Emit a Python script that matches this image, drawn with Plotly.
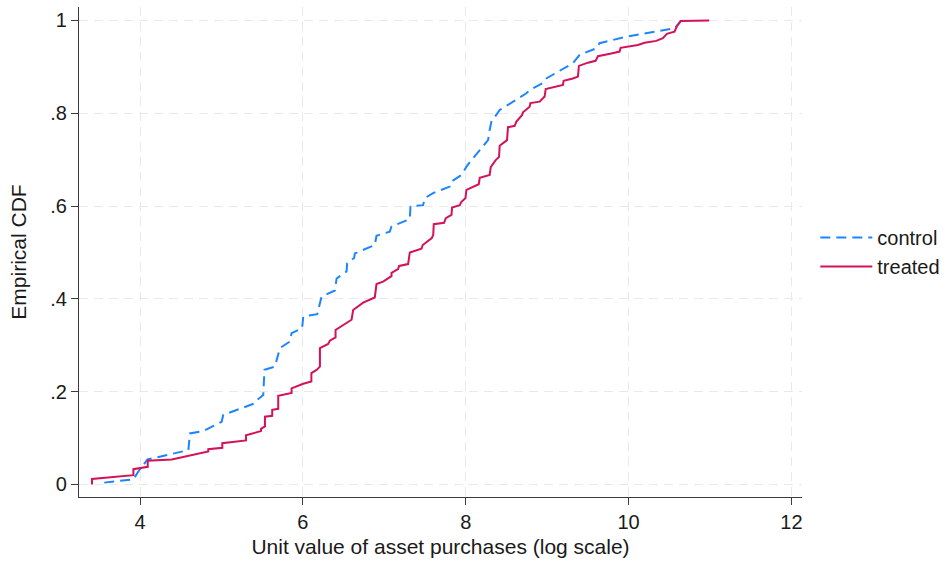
import plotly.graph_objects as go

# Empirical CDF of log unit values, by group (sorted points joined by lines)
control_x = [3.56, 3.918, 3.979, 4.092, 4.593, 4.613, 4.777, 5.002, 5.022, 5.411,
             5.451, 5.513, 5.528, 5.656, 5.718, 5.840, 5.861, 5.991, 6.004, 6.176,
             6.229, 6.393, 6.414, 6.536, 6.544, 6.629, 6.638, 6.883, 6.904, 7.067,
             7.088, 7.292, 7.313, 7.321, 7.476, 7.497, 7.599, 7.804, 7.825, 7.947,
             8.009, 8.070, 8.172, 8.274, 8.294, 8.315, 8.417, 8.745, 8.785, 8.948,
             8.990, 9.316, 9.399, 9.604, 9.644, 9.972, 10.564, 10.626, 10.647]
control_y = [0.004, 0.011, 0.028, 0.054, 0.074, 0.110, 0.115, 0.135, 0.150, 0.175,
             0.184, 0.193, 0.247, 0.254, 0.294, 0.308, 0.326, 0.337, 0.362, 0.367,
             0.405, 0.418, 0.444, 0.459, 0.477, 0.488, 0.498, 0.516, 0.536, 0.545,
             0.556, 0.570, 0.572, 0.599, 0.602, 0.617, 0.628, 0.642, 0.653, 0.667,
             0.685, 0.699, 0.721, 0.742, 0.764, 0.782, 0.807, 0.843, 0.850, 0.865,
             0.875, 0.908, 0.926, 0.940, 0.951, 0.965, 0.983, 0.994, 1.000]

treated_x = [3.41, 3.41, 3.918, 3.918, 4.094, 4.094, 4.389, 4.613, 4.838, 4.838,
             5.010, 5.010, 5.301, 5.301, 5.485, 5.485, 5.534, 5.534, 5.623, 5.623,
             5.697, 5.697, 5.861, 5.861, 6.004, 6.104, 6.104, 6.168, 6.209, 6.209,
             6.310, 6.331, 6.401, 6.401, 6.475, 6.598, 6.617, 6.666, 6.740, 6.883,
             6.904, 6.985, 7.088, 7.088, 7.169, 7.182, 7.292, 7.313, 7.456, 7.472,
             7.583, 7.601, 7.607, 7.734, 7.755, 7.825, 7.832, 7.926, 7.947, 7.996,
             8.009, 8.160, 8.172, 8.294, 8.307, 8.368, 8.409, 8.417, 8.507, 8.519,
             8.601, 8.622, 8.691, 8.703, 8.785, 8.794, 8.908, 8.969, 8.982, 9.194,
             9.202, 9.316, 9.378, 9.390, 9.501, 9.595, 9.623, 9.787, 9.890, 9.902,
             10.114, 10.196, 10.340, 10.421, 10.470, 10.564, 10.592, 10.626, 10.64, 10.99]
treated_y = [0.000, 0.012, 0.020, 0.033, 0.038, 0.051, 0.054, 0.063, 0.071, 0.076,
             0.079, 0.089, 0.095, 0.106, 0.115, 0.120, 0.125, 0.146, 0.148, 0.161,
             0.163, 0.191, 0.197, 0.207, 0.217, 0.222, 0.240, 0.247, 0.254, 0.294,
             0.303, 0.310, 0.317, 0.333, 0.342, 0.355, 0.376, 0.382, 0.392, 0.403,
             0.432, 0.437, 0.449, 0.456, 0.464, 0.471, 0.475, 0.500, 0.508, 0.516,
             0.531, 0.538, 0.561, 0.564, 0.574, 0.581, 0.597, 0.602, 0.609, 0.617,
             0.635, 0.647, 0.661, 0.667, 0.684, 0.699, 0.706, 0.730, 0.742, 0.770,
             0.773, 0.782, 0.796, 0.802, 0.814, 0.822, 0.825, 0.836, 0.852, 0.861,
             0.870, 0.875, 0.879, 0.902, 0.909, 0.913, 0.923, 0.929, 0.933, 0.941,
             0.947, 0.952, 0.956, 0.962, 0.971, 0.976, 0.987, 0.995, 0.999, 1.000]

x_ticks = [4, 6, 8, 10, 12]
y_ticks = [0, 0.2, 0.4, 0.6, 0.8, 1]
y_tick_labels = ["0", ".2", ".4", ".6", ".8", "1"]

FONT = "Liberation Sans, Arial, sans-serif"
GRID = "#e9e9e9"
AXIS = "#3c3c3c"
TICK_SIZE = 20
TITLE_SIZE = 21

fig = go.Figure()
fig.add_trace(go.Scatter(
    x=control_x, y=control_y, mode="lines", name="control",
    line=dict(color="#1a85ff", width=2, dash="10px,6px"),
))
fig.add_trace(go.Scatter(
    x=treated_x, y=treated_y, mode="lines", name="treated",
    line=dict(color="#d41159", width=2),
))

fig.update_layout(
    width=951, height=563,
    margin=dict(l=79, r=148, t=7, b=66),
    paper_bgcolor="white", plot_bgcolor="white",
    font=dict(family=FONT, size=TICK_SIZE, color="#1a1a1a"),
    showlegend=True,
    legend=dict(
        x=1.017, y=0.5, xanchor="left", yanchor="middle",
        bgcolor="rgba(0,0,0,0)", font=dict(size=20), tracegroupgap=0,
        itemwidth=52,
    ),
    xaxis=dict(
        range=[3.25, 12.13], tickvals=x_ticks, ticks="outside", ticklen=7,
        tickcolor=AXIS, showline=True, linecolor=AXIS, linewidth=1.3,
        tickfont=dict(size=TICK_SIZE),
        showgrid=True, gridcolor=GRID, griddash="9px,6px", gridwidth=1.3,
        zeroline=False,
        title=dict(text="Unit value of asset purchases (log scale)", standoff=7,
                   font=dict(size=TITLE_SIZE)),
    ),
    yaxis=dict(
        range=[-0.027, 1.029], tickvals=y_ticks, ticktext=y_tick_labels,
        ticks="outside", ticklen=7, tickcolor=AXIS, showline=True,
        tickfont=dict(size=TICK_SIZE),
        linecolor=AXIS, linewidth=1.3, showgrid=True, gridcolor=GRID,
        griddash="9px,6px", gridwidth=1.3, zeroline=False,
        title=dict(text="Empirical CDF", standoff=17, font=dict(size=TITLE_SIZE)),
    ),
)

fig.write_html("out.html")
